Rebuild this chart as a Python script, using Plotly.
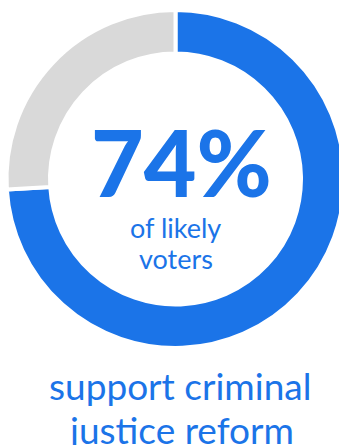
import plotly.graph_objects as go

labels = ["Support", "Other"]
values = [74, 26]
colors = ["#1B74E8", "#D9D9D9"]
big_text = "74%"
sub_lines = ["of likely", "voters"]
bottom_lines = ["support criminal", "justice reform"]

W, H = 351, 445
cx, cy, r = 175.5, 179.0, 169.0
hole_r = 125.5

fig = go.Figure(go.Pie(
    labels=labels, values=values, sort=False, direction="clockwise", rotation=0,
    hole=hole_r / r,
    marker=dict(colors=colors, line=dict(color="white", width=4)),
    textinfo="none", hoverinfo="label+percent", showlegend=False,
    domain=dict(x=[(cx - r) / W, (cx + r) / W], y=[1 - (cy + r) / H, 1 - (cy - r) / H]),
))

blue = colors[0]
FONT = "Lato"
ann = []
def add(text, xpx, ypx, size, weight):
    ann.append(dict(text=text, x=xpx / W, y=1 - ypx / H, xref="paper", yref="paper",
                    xanchor="center", yanchor="middle", showarrow=False,
                    font=dict(family=FONT, size=size, color=blue, weight=weight)))

add(big_text, 181, 161, 91, 900)
add(sub_lines[0], 175.5, 227.5, 27, 400)
add(sub_lines[1], 175.5, 258.5, 27, 400)
add(bottom_lines[0], 180, 385.5, 37, 400)
add(bottom_lines[1], 181, 429.5, 37, 400)

fig.update_layout(width=W, height=H, margin=dict(l=0, r=0, t=0, b=0),
                  paper_bgcolor="white", plot_bgcolor="white", annotations=ann)

fig.write_html("out.html", config={"displayModeBar": False},
               post_script="document.documentElement.style.overflow='hidden';document.body.style.overflow='hidden';document.body.style.margin='0';")
